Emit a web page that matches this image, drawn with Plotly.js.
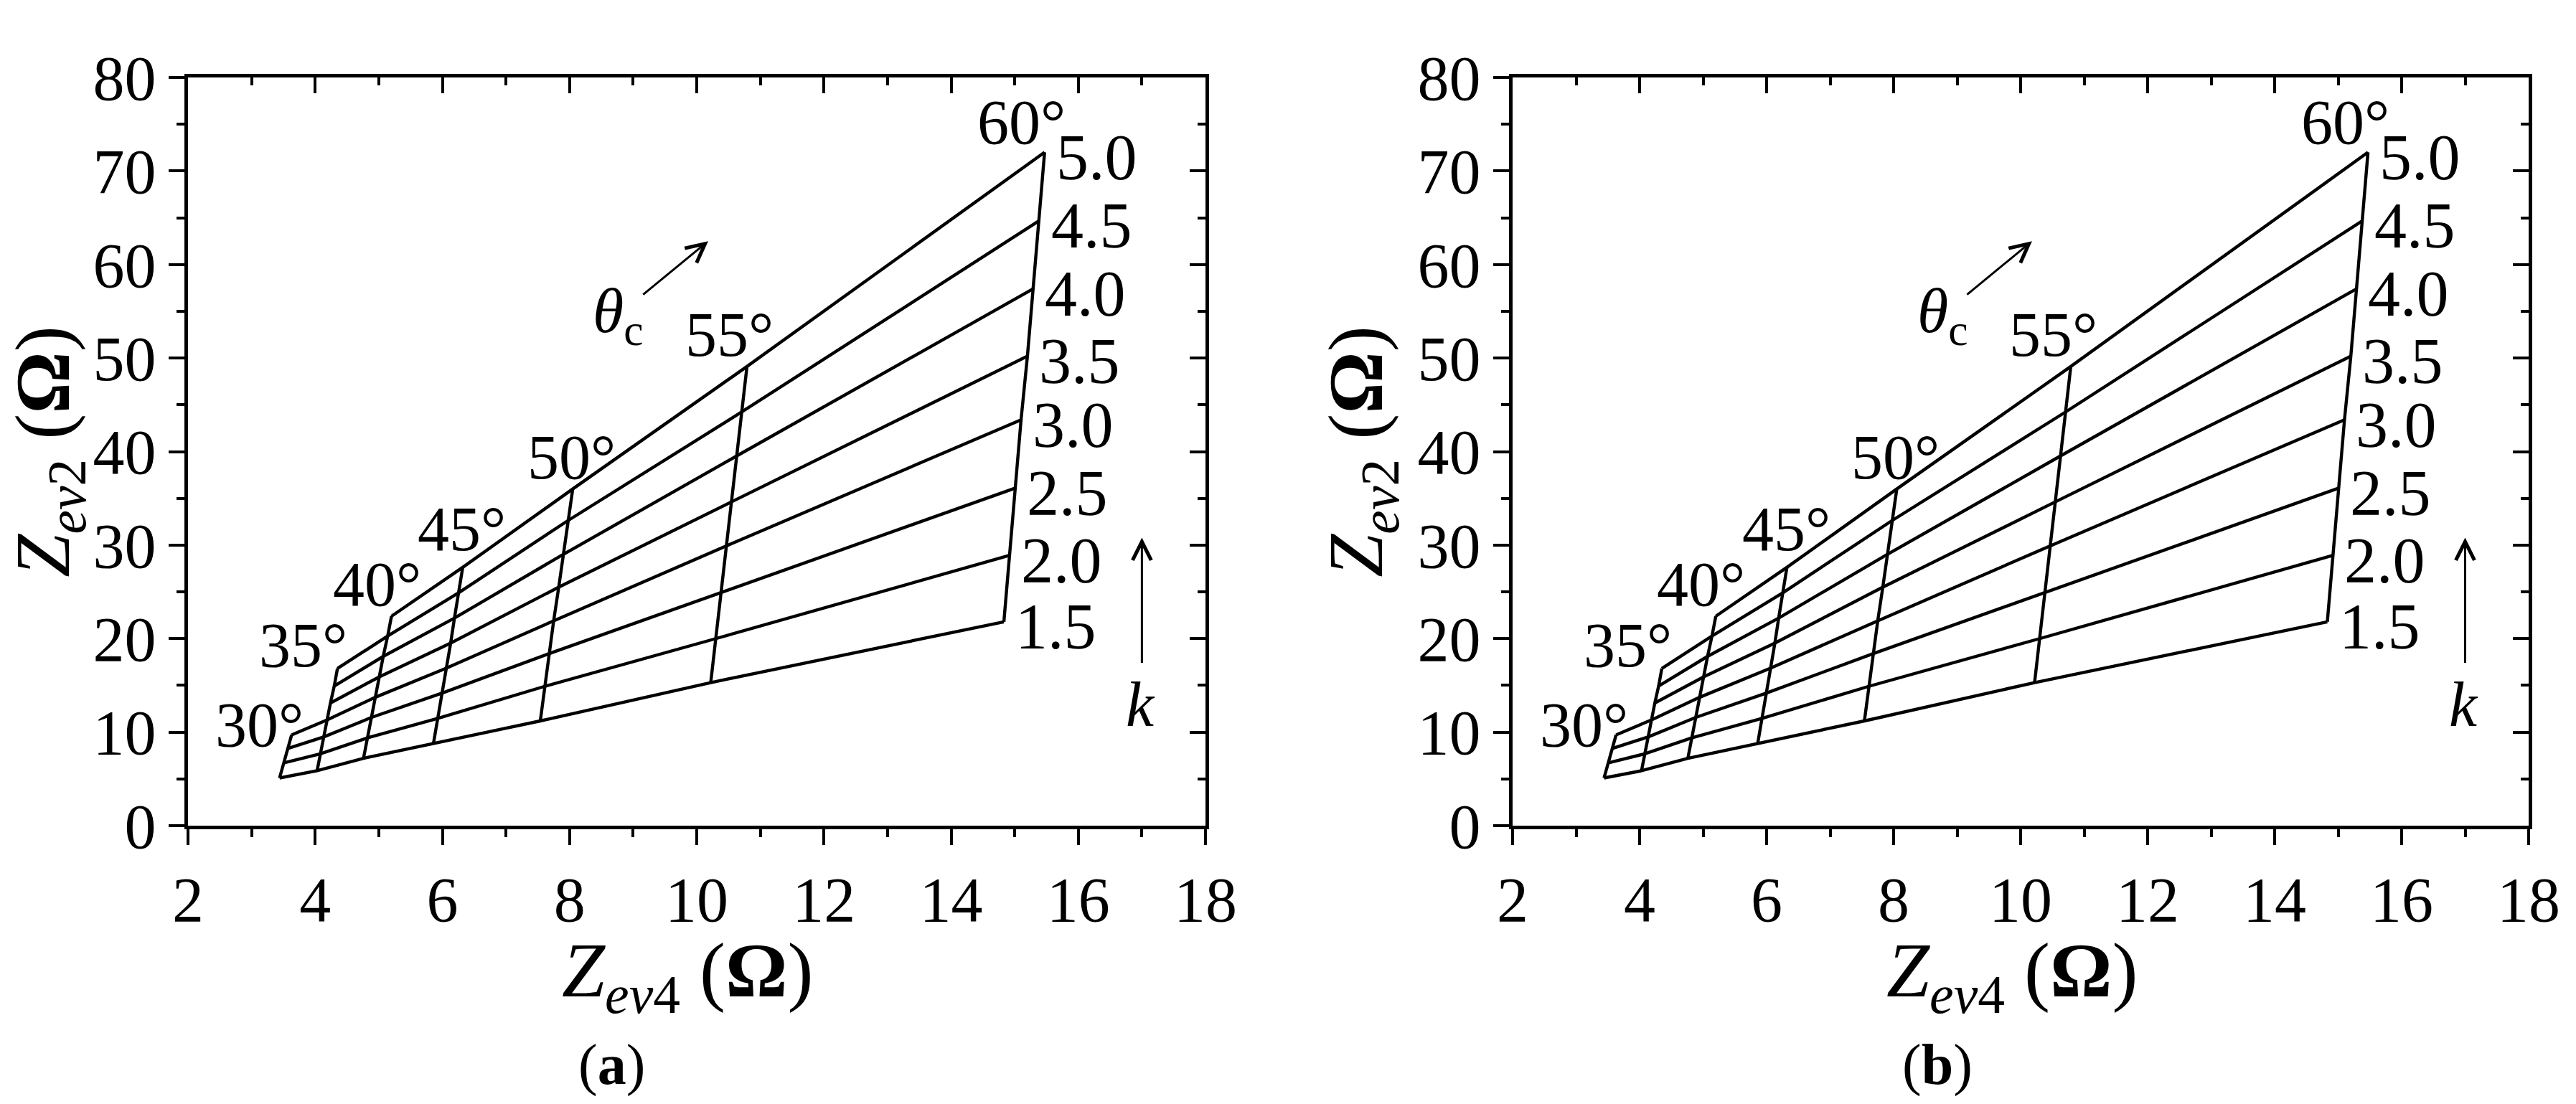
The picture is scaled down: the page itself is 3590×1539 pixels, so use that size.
<!DOCTYPE html>
<html>
<head>
<meta charset="utf-8">
<script src="https://cdn.plot.ly/plotly-3.0.1.min.js"></script>
<style>
html,body{margin:0;padding:0;background:#fff;}
#chart{width:3590px;height:1539px;}
</style>
</head>
<body>
<div id="chart"></div>
<script>
// ---------------- data ----------------
const thetaLabels = ['30°', '35°', '40°', '45°', '50°', '55°', '60°'];
const kLabels = ['1.5', '2.0', '2.5', '3.0', '3.5', '4.0', '4.5', '5.0'];

// Z_ev4 / Z_ev2 (Ω) along each θc curve, k = 1.5, 2.0, ... (only feasible k present)
const zev4_30 = [3.44, 3.50, 3.57, 3.63];
const zev2_30 = [5.10, 6.70, 8.25, 9.71];
const zev4_35 = [4.03, 4.08, 4.14, 4.19, 4.24, 4.30, 4.35];
const zev2_35 = [5.87, 7.68, 9.50, 11.31, 13.12, 14.93, 16.80];
const zev4_40 = [4.76, 4.82, 4.88, 4.95, 5.01, 5.07, 5.14, 5.20];
const zev2_40 = [7.20, 9.38, 11.56, 13.74, 15.92, 18.10, 20.28, 22.40];
const zev4_45 = [5.86, 5.93, 5.99, 6.06, 6.13, 6.19, 6.26, 6.32];
const zev2_45 = [8.80, 11.48, 14.16, 16.84, 19.52, 22.20, 24.92, 27.62];
const zev4_50 = [7.54, 7.61, 7.68, 7.75, 7.83, 7.90, 7.97, 8.05];
const zev2_50 = [11.2, 14.9, 18.4, 21.9, 25.5, 29.0, 32.6, 36.0];
const zev4_55 = [10.22, 10.30, 10.38, 10.46, 10.54, 10.62, 10.70, 10.79];
const zev2_55 = [15.3, 20.0, 24.9, 29.9, 34.6, 39.5, 44.2, 49.1];
const zev4_60 = [14.83, 14.92, 15.01, 15.10, 15.20, 15.29, 15.39, 15.47];
const zev2_60 = [21.8, 28.9, 36.1, 43.4, 50.2, 57.4, 64.7, 72.0];

const xTickVals = [2, 4, 6, 8, 10, 12, 14, 16, 18];
const yTickVals = [0, 10, 20, 30, 40, 50, 60, 70, 80];

const xTitle = '<i>Z</i><sub><i>ev</i>4</sub> (<b>Ω</b>)';
const yTitle = '<i>Z</i><sub><i>ev</i>2</sub> (<b>Ω</b>)';
const panelNames = ['(<b>a</b>)', '(<b>b</b>)'];

// ---------------- build ----------------
const cols = [
  [zev4_30, zev2_30], [zev4_35, zev2_35], [zev4_40, zev2_40], [zev4_45, zev2_45],
  [zev4_50, zev2_50], [zev4_55, zev2_55], [zev4_60, zev2_60]
];

const FONT = 'Liberation Serif';
const LW = 4.4;

function panelTraces(xa, ya) {
  const tr = [];
  cols.forEach(c => {
    tr.push({type: 'scatter', mode: 'lines', x: c[0], y: c[1], xaxis: xa, yaxis: ya,
      line: {color: 'black', width: LW}, hoverinfo: 'skip', showlegend: false});
  });
  kLabels.forEach((kl, j) => {
    const xs = [], ys = [];
    cols.forEach(c => { if (j < c[0].length) { xs.push(c[0][j]); ys.push(c[1][j]); } });
    tr.push({type: 'scatter', mode: 'lines', x: xs, y: ys, xaxis: xa, yaxis: ya,
      line: {color: 'black', width: LW}, hoverinfo: 'skip', showlegend: false});
  });
  return tr;
}

const traces = [].concat(
  panelTraces('x', 'y'),
  panelTraces('x2', 'y2'),
  [{type: 'scatter', mode: 'lines', x: [], y: [], xaxis: 'x3', yaxis: 'y3', hoverinfo: 'skip', showlegend: false},
   {type: 'scatter', mode: 'lines', x: [], y: [], xaxis: 'x4', yaxis: 'y4', hoverinfo: 'skip', showlegend: false}]
);

const TICKW = 4, MAJ = 22, MIN = 11, AXW = 5;

function mainX(domain, anchor) {
  return {
    domain: domain, anchor: anchor, range: [2, 18], tickvals: xTickVals,
    ticks: 'outside', ticklen: MAJ, tickwidth: TICKW, tickcolor: 'black',
    showline: true, linewidth: AXW, linecolor: 'black', mirror: true,
    showgrid: false, zeroline: false,
    tickfont: {family: FONT, size: 88, color: 'black'},
    minor: {dtick: 1, tick0: 2, ticks: 'outside', ticklen: MIN, tickwidth: TICKW, tickcolor: 'black', showgrid: false}
  };
}
function mainY(domain, anchor) {
  return {
    domain: domain, anchor: anchor, range: [0, 80], tickvals: yTickVals,
    ticks: 'outside', ticklen: MAJ, tickwidth: TICKW, tickcolor: 'black',
    showline: true, linewidth: AXW, linecolor: 'black', mirror: true,
    showgrid: false, zeroline: false,
    tickfont: {family: FONT, size: 88, color: 'black'},
    minor: {dtick: 5, tick0: 0, ticks: 'outside', ticklen: MIN, tickwidth: TICKW, tickcolor: 'black', showgrid: false},
    title: {text: yTitle, font: {family: FONT, size: 108, color: 'black'}, standoff: 14}
  };
}
function topX(over, anchor) {
  return {
    overlaying: over, anchor: anchor, side: 'top', range: [2, 18], tickvals: xTickVals,
    ticks: 'inside', ticklen: MAJ, tickwidth: TICKW, tickcolor: 'black',
    showticklabels: false, showline: false, showgrid: false, zeroline: false,
    minor: {dtick: 1, tick0: 2, ticks: 'inside', ticklen: MIN, tickwidth: TICKW, tickcolor: 'black', showgrid: false}
  };
}
function rightY(over, anchor) {
  return {
    overlaying: over, anchor: anchor, side: 'right', range: [0, 80], tickvals: yTickVals,
    ticks: 'inside', ticklen: MAJ, tickwidth: TICKW, tickcolor: 'black',
    showticklabels: false, showline: false, showgrid: false, zeroline: false,
    minor: {dtick: 5, tick0: 0, ticks: 'inside', ticklen: MIN, tickwidth: TICKW, tickcolor: 'black', showgrid: false}
  };
}

// label placement (positions only)
const degPos = [[3.12, 10.8], [3.81, 19.3], [4.97, 25.8], [6.31, 31.7], [8.03, 39.4], [10.51, 52.5], [15.11, 75.2]];
const kLabelDx = 0.17, kLabelDy = -0.5;

function panelAnnotations(xr, yr) {
  const ann = [];
  thetaLabels.forEach((t, i) => {
    ann.push({xref: xr, yref: yr, x: degPos[i][0], y: degPos[i][1], text: t, showarrow: false,
      xanchor: 'center', yanchor: 'middle', font: {family: FONT, size: 88, color: 'black'}});
  });
  kLabels.forEach((k, j) => {
    ann.push({xref: xr, yref: yr, x: zev4_60[j] + kLabelDx, y: zev2_60[j] + kLabelDy, text: k, showarrow: false,
      xanchor: 'left', yanchor: 'middle', height: 80, valign: 'middle', borderpad: 0,
      font: {family: FONT, size: 90, color: 'black'}});
  });
  ann.push({xref: xr, yref: yr, axref: xr, ayref: yr, x: 10.18, y: 62.5, ax: 9.14, ay: 56.7, text: '',
    showarrow: true, arrowhead: 5, arrowsize: 1.7, arrowwidth: 3, arrowcolor: 'black', standoff: 0, startstandoff: 0});
  ann.push({xref: xr, yref: yr, x: 8.77, y: 54.6, text: '<i>θ</i><sub>c</sub>', showarrow: false,
    xanchor: 'center', yanchor: 'middle', font: {family: FONT, size: 88, color: 'black'}});
  ann.push({xref: xr, yref: yr, axref: xr, ayref: yr, x: 17.0, y: 30.8, ax: 17.0, ay: 17.3, text: '',
    showarrow: true, arrowhead: 5, arrowsize: 1.7, arrowwidth: 3, arrowcolor: 'black', standoff: 0, startstandoff: 0});
  ann.push({xref: xr, yref: yr, x: 16.98, y: 12.9, text: '<i>k</i>', showarrow: false,
    xanchor: 'center', yanchor: 'middle', font: {family: FONT, size: 88, color: 'black'}});
  return ann;
}

const W = 3590, H = 1539;
const domA = [262 / W, 1680 / W];
const domB = [2108 / W, 3524 / W];
const domY = [(H - 1151) / H, (H - 108) / H];

const annotations = [].concat(
  panelAnnotations('x', 'y'),
  panelAnnotations('x2', 'y2'),
  [
    {xref: 'paper', yref: 'paper', x: 958 / W, y: 1 - 1360 / H, text: xTitle, showarrow: false,
      xanchor: 'center', yanchor: 'middle', font: {family: FONT, size: 108, color: 'black'}},
    {xref: 'paper', yref: 'paper', x: 2804 / W, y: 1 - 1360 / H, text: xTitle, showarrow: false,
      xanchor: 'center', yanchor: 'middle', font: {family: FONT, size: 108, color: 'black'}},
    {xref: 'paper', yref: 'paper', x: 852 / W, y: 1 - 1484 / H, text: panelNames[0], showarrow: false,
      xanchor: 'center', yanchor: 'middle', font: {family: FONT, size: 80, color: 'black'}},
    {xref: 'paper', yref: 'paper', x: 2700 / W, y: 1 - 1484 / H, text: panelNames[1], showarrow: false,
      xanchor: 'center', yanchor: 'middle', font: {family: FONT, size: 80, color: 'black'}}
  ]
);

const layout = {
  width: W, height: H,
  margin: {l: 0, r: 0, t: 0, b: 0},
  paper_bgcolor: 'white', plot_bgcolor: 'white',
  showlegend: false,
  font: {family: FONT, size: 88, color: 'black'},
  xaxis: mainX(domA, 'y'),
  yaxis: mainY(domY, 'x'),
  xaxis2: mainX(domB, 'y2'),
  yaxis2: mainY(domY, 'x2'),
  xaxis3: topX('x', 'y'),
  yaxis3: rightY('y', 'x'),
  xaxis4: topX('x2', 'y2'),
  yaxis4: rightY('y2', 'x2'),
  annotations: annotations
};

Plotly.newPlot('chart', traces, layout, {staticPlot: true, displayModeBar: false});
</script>
</body>
</html>
